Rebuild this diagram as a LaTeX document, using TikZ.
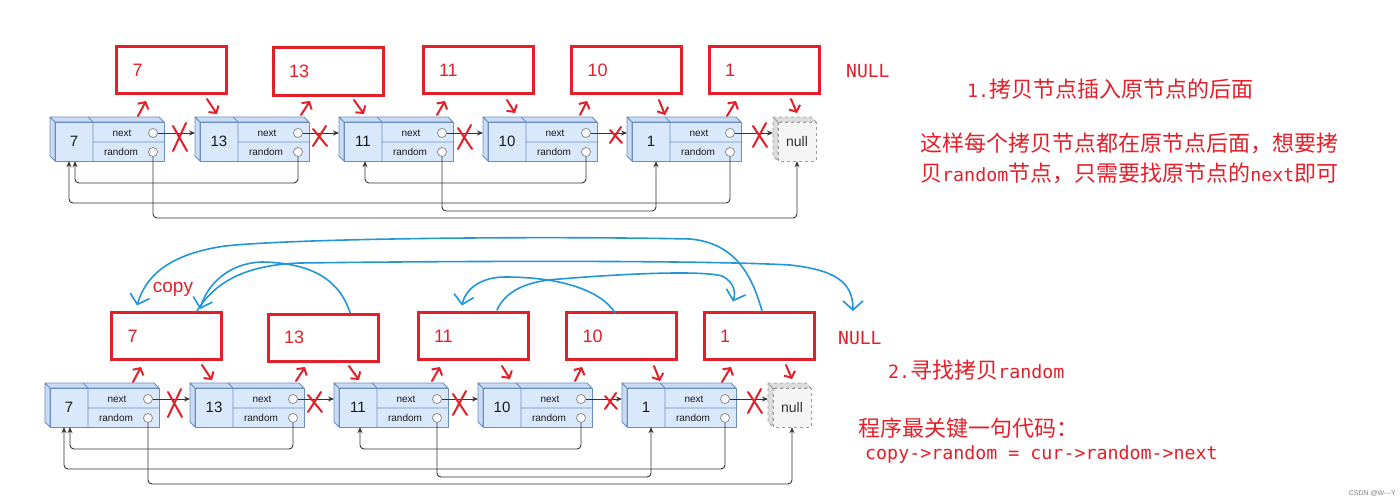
\documentclass[tikz,border=0pt]{standalone}
\usepackage{fontspec}
\setmainfont{Liberation Sans}
\newfontfamily\cjk{Noto Sans CJK SC}
\newfontfamily\mono{DejaVu Sans Mono}
\usetikzlibrary{arrows.meta,calc}
\definecolor{nfill}{HTML}{DAE8FC}
\definecolor{nside}{HTML}{C9DBF5}
\definecolor{nline}{HTML}{6C8EBF}
\definecolor{gfill}{HTML}{F5F5F5}
\definecolor{gline}{HTML}{999999}
\definecolor{annred}{HTML}{E3202A}
\definecolor{annblue}{HTML}{2196D8}
\definecolor{conn}{HTML}{333333}
\newcommand\hw[1]{{\mono\fontsize{18.3}{22}\selectfont #1}}
\tikzset{
  face/.style={fill=nfill, draw=nline, line width=0.8pt, line join=round},
  sideface/.style={fill=nside, draw=nline, line width=0.8pt, line join=round},
  nullface/.style={fill=gfill, draw=gline, line width=0.8pt, dashed, line join=round},
  nullside/.style={fill=gfill!90!black, draw=gline, line width=0.8pt, dashed, line join=round},
  valnode/.style={inner sep=0pt, minimum width=38pt, minimum height=39pt, text=black!90, font=\fontsize{15}{15}\selectfont},
  fieldtxt/.style={font=\fontsize{10}{10}\selectfont, inner sep=0pt, text=black!90},
  ptr/.style={circle, draw=gray, fill=white, line width=0.7pt, minimum size=9pt, inner sep=0pt},
  link/.style={draw=conn, line width=0.9pt, -{Stealth[length=6pt,width=5pt]}},
  randlink/.style={link, rounded corners=4pt},
  redbox/.style={draw=annred, line width=3pt, minimum height=47pt, text width=78pt, inner xsep=16pt, inner ysep=0pt, align=left, text=annred, font=\fontsize{18}{18}\selectfont},
  redmark/.style={draw=annred, line width=2pt, line cap=round},
  redarr/.style={redmark, -{Straight Barb[length=5pt,width=12pt]}},
  bluecurve/.style={draw=annblue, line width=1.6pt, line cap=round, -{Straight Barb[length=9pt,width=20pt]}},
  redtxt/.style={text=annred, anchor=west, inner sep=0pt},
}
% list node: #1 name, #2 front-left x, #3 value (front top y = 122)
\newcommand\llnode[3]{%
  \path[sideface] (#2-5,117) -- (#2,122) -- (#2,161) -- (#2-5,156) -- cycle;
  \path[sideface] (#2-5,117) -- (#2+104,117) -- (#2+109,122) -- (#2,122) -- cycle;
  \path[face] (#2,122) rectangle (#2+109,161);
  \draw[nline, line width=0.8pt] (#2+33,117) -- (#2+38,122) -- (#2+38,161) (#2+38,142) -- (#2+109,142);
  \node[valnode] (#1) at (#2+19,141.5) {#3};
  \node[fieldtxt] at (#2+67,133) {next};
  \node[fieldtxt] at (#2+66,152) {random};
  \node[ptr] (#1n) at (#2+98,133) {};
  \node[ptr] (#1r) at (#2+98,152) {};
  \coordinate (#1in) at (#2-5,133);
}
\newcommand\nullnode[2]{%
  \path[nullside] (#2-5,117) -- (#2,122) -- (#2,161) -- (#2-5,156) -- cycle;
  \path[nullside] (#2-5,117) -- (#2+33,117) -- (#2+38,122) -- (#2,122) -- cycle;
  \path[nullface] (#2,122) rectangle (#2+38,161);
  \node[valnode, text=conn, font=\fontsize{14}{14}\selectfont] (#1) at (#2+19,141.5) {null};
  \coordinate (#1in) at (#2-5,133);
}
\newcommand\llrow[1]{%
  \llnode{#1a}{55}{7}
  \llnode{#1b}{200}{13}
  \llnode{#1c}{344}{11}
  \llnode{#1d}{488}{10}
  \llnode{#1e}{632}{1}
  \nullnode{#1f}{778}
  \draw[link] (#1an.east) -- (#1bin);
  \draw[link] (#1bn.east) -- (#1cin);
  \draw[link] (#1cn.east) -- (#1din);
  \draw[link] (#1dn.east) -- (#1ein);
  \draw[link] (#1en.east) -- (#1fin);
  \draw[randlink] (#1br.south) -- (#1br |- 0,183) -| ([xshift=1pt]#1a.south);
  \draw[randlink] (#1er.south) -- (#1er |- 0,203) -| ([xshift=-5pt]#1a.south);
  \draw[randlink] (#1ar.south) -- (#1ar |- 0,218) -| (#1f.south);
  \draw[randlink] (#1cr.south) -- (#1cr |- 0,211) -| ([xshift=5pt]#1e.south);
  \draw[randlink] (#1dr.south) -- (#1dr |- 0,183) -| ([xshift=2pt]#1c.south);
  \node[redbox] (#1Ra) at (171.5,70) {7};
  \node[redbox] (#1Rb) at (328,71.5) {13};
  \node[redbox] (#1Rc) at (478,70) {11};
  \node[redbox] (#1Rd) at (626.5,70) {10};
  \node[redbox] (#1Re) at (764,70) {1};
  \foreach \a/\b/\c/\d in {138/116/146/101, 301/115/310/101, 437/115/445/101, 580/115/587/101, 727/116/736/101,
                           207/99/217/114, 354/100/364/114, 507/100/515/113, 659/100/665/115, 791/99/797/113}
    \draw[redarr] (\a,\b) -- (\c,\d);
  \foreach \cx/\cy/\w/\h in {180/137/7/14, 320/136/7/10, 465/137/7/12, 616/135/6/8, 760/135/7/12}
    \draw[redmark] (\cx+\w-1,\cy-\h) -- (\cx-\w,\cy+\h) (\cx-\w,\cy-\h+3) -- (\cx+\w,\cy+\h);
}
\begin{document}
\begin{tikzpicture}[x=1pt,y=-1pt]
\useasboundingbox (0,0) rectangle (1400,503);
\fill[white] (0,0) rectangle (1400,503);
% top row
\llrow{t}
% bottom row
\begin{scope}[shift={(-5,266)}]
\llrow{b}
\end{scope}
% NULL labels
\node[redtxt, font=\mono\fontsize{18}{20}\selectfont] (tNULL) at (846,71) {NULL};
\node[redtxt, font=\mono\fontsize{18}{20}\selectfont] (bNULL) at (838,338) {NULL};
\node[text=annred, inner sep=0pt, font=\fontsize{19}{19}\selectfont] (copylbl) at (173,289) {copy};
% blue curves (random pointers of copies)
\draw[bluecurve] ([xshift=3pt]bRe.north) .. controls (752,275) and (735,243) .. (690,239)
   .. controls (550,236) and (300,238) .. (225,246)
   .. controls (170,254) and (146,275) .. ([shift={(-29.5,-5.5)}]bRa.north);
\draw[bluecurve] ([xshift=27pt]bRb.north) .. controls (340,282) and (315,263) .. (262,262)
   .. controls (228,263) and (207,285) .. ([shift={(33.5,-2)}]bRa.north);
\draw[bluecurve] ([xshift=30.5pt]bRa.north) .. controls (215,282) and (245,265) .. (300,263)
   .. controls (450,261) and (700,260) .. (790,265)
   .. controls (835,270) and (853,282) .. (853,311);
\draw[bluecurve] ([shift={(-6.5,1.5)}]bRd.north) .. controls (600,290) and (560,277) .. (505,277)
   .. controls (480,277) and (465,290) .. ([shift={(-11,-5.5)}]bRc.north);
\draw[bluecurve] ([shift={(24,-1)}]bRc.north) .. controls (505,292) and (525,281) .. (560,279)
   .. controls (620,274) and (700,270) .. (722,276)
   .. controls (734,282) and (736,292) .. ([shift={(-26,-9.5)}]bRe.north);
% explanations
\node[redtxt, font=\cjk\fontsize{22}{22}\selectfont] (s1) at (967,89) {\hw{1.}拷贝节点插入原节点的后面};
\node[redtxt, font=\cjk\fontsize{22}{22}\selectfont] (s2) at (920,143) {这样每个拷贝节点都在原节点后面，想要拷};
\node[redtxt, font=\cjk\fontsize{22}{22}\selectfont] (s3) at (920,173) {贝\hw{random}节点，只需要找原节点的\hw{next}即可};
\node[redtxt, font=\cjk\fontsize{22}{22}\selectfont] (s4) at (888,370) {\hw{2.}寻找拷贝\hw{random}};
\node[redtxt, font=\cjk\fontsize{22}{22}\selectfont] (s5) at (858,428) {程序最关键一句代码：};
\node[redtxt] (s6) at (865,454) {\hw{copy->random = cur->random->next}};
\node[anchor=east, inner sep=0pt, text=gray, font=\fontsize{7}{7}\selectfont] (wm) at (1396,493) {CSDN @W-{}-{}-Y};
\end{tikzpicture}
\end{document}
